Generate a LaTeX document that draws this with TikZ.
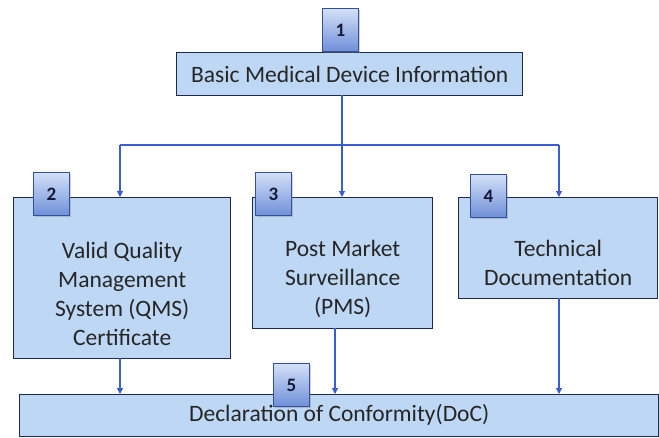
\documentclass[tikz,border=0pt]{standalone}
\usepackage{fontspec}
\setmainfont{Carlito}
\usetikzlibrary{arrows.meta,shadows}
\definecolor{boxfill}{HTML}{BDD7F4}
\definecolor{boxline}{HTML}{1E2A48}
\definecolor{conn}{HTML}{3A5ED0}
\definecolor{badgetop}{HTML}{D3E0F7}
\definecolor{badgebot}{HTML}{6F8FD8}
\definecolor{badgeline}{HTML}{34509C}
\definecolor{numcol}{HTML}{141A38}
\tikzset{
  box/.style={draw=boxline, line width=1.4pt, fill=boxfill, anchor=north west,
    inner sep=0pt},
  boxtext/.style={align=center, inner sep=0pt, font=\fontsize{23.5}{29}\selectfont, text=black!85},
  badge/.style={draw=badgeline, line width=0.9pt, top color=badgetop, bottom color=badgebot,
    anchor=north west, minimum width=36pt, minimum height=43pt, inner sep=0pt,
    font=\fontsize{19}{19}\selectfont\bfseries, text=numcol,
    drop shadow={shadow xshift=1.5pt, shadow yshift=-1.5pt, opacity=0.35}},
  conn/.style={draw=conn, line width=1.1pt},
  arr/.style={conn, -{Triangle[width=6pt,length=6pt]}}
}
\begin{document}
\begin{tikzpicture}[x=1pt,y=-1pt]
\useasboundingbox (0,0) rectangle (659,437);
% boxes
\node[box, minimum width=346pt, minimum height=43pt] (b1) at (176,52) {};
\node[box, minimum width=217pt, minimum height=161pt] (b2) at (13,197) {};
\node[box, minimum width=180pt, minimum height=131pt] (b3) at (252,197) {};
\node[box, minimum width=199pt, minimum height=101pt] (b4) at (458,197) {};
\node[box, minimum width=639pt, minimum height=42pt] (b5) at (19,394) {};
% texts
\node[boxtext] (t1) at (b1.center) {Basic Medical Device Information};
\node[boxtext, yshift=-16pt] (t2) at (b2.center) {Valid Quality\\Management\\System (QMS)\\Certificate};
\node[boxtext, yshift=-16pt] (t3) at (b3.center) {Post Market\\Surveillance\\(PMS)};
\node[boxtext, yshift=-15pt] (t4) at (b4.center) {Technical\\Documentation};
\node[boxtext, yshift=1pt] (t5) at (b5.center) {Declaration of Conformity(DoC)};
% connectors
\coordinate (top) at (342,95);
\coordinate (split) at (342,145);
\coordinate (l) at (120,145);
\coordinate (r) at (559,145);
\draw[conn] (top) -- (split);
\draw[conn] (l) -- (r);
\draw[arr] (l) -- (l |- b2.north);
\draw[arr] (split) -- (split |- b3.north);
\draw[arr] (r) -- (r |- b4.north);
\coordinate (d2) at (120,358);
\coordinate (d3) at (335,328);
\coordinate (d4) at (559,298);
\draw[arr] (d2) -- (d2 |- b5.north);
\draw[arr] (d3) -- (d3 |- b5.north);
\draw[arr] (d4) -- (d4 |- b5.north);
% badges
\node[badge] (n1) at (322,8) {1};
\node[badge] (n2) at (33,172) {2};
\node[badge] (n3) at (255,172) {3};
\node[badge] (n4) at (470,174) {4};
\node[badge] (n5) at (273,363) {5};
\end{tikzpicture}
\end{document}
